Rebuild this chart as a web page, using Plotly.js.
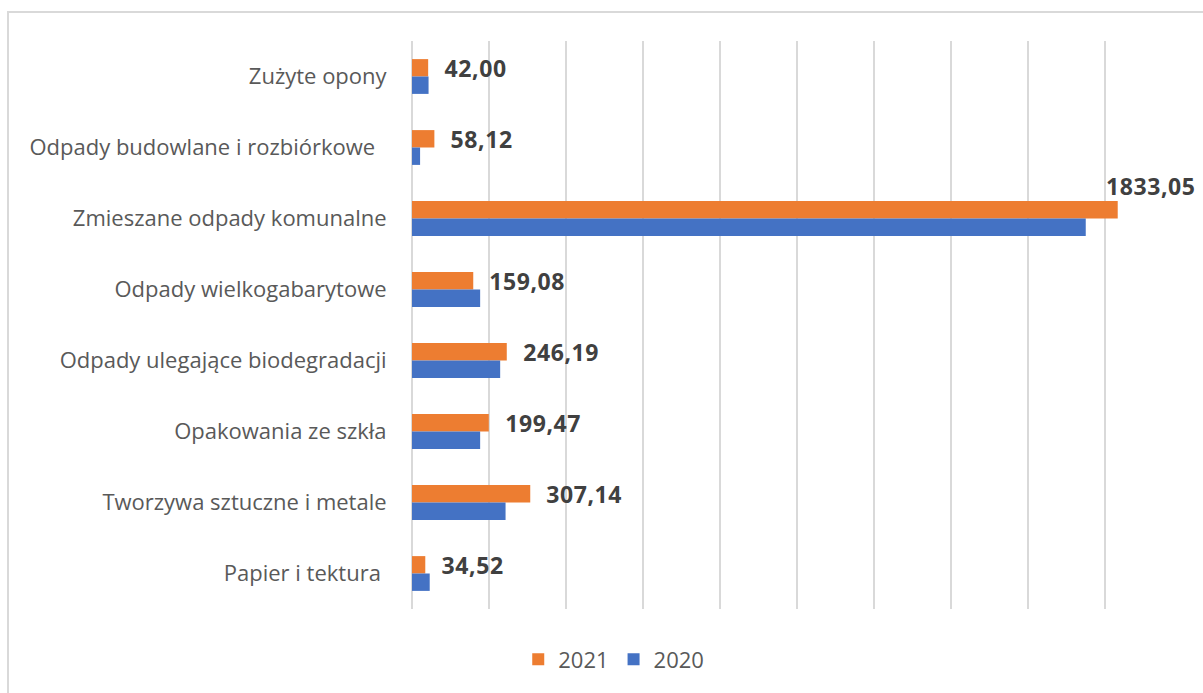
<!DOCTYPE html>
<html>
<head>
<meta charset="utf-8">
<script src="https://cdn.plot.ly/plotly-3.0.1.min.js"></script>
<style>
  html, body { margin: 0; padding: 0; background: #ffffff; }
  #frame { position: absolute; left: 7px; top: 11px; width: 1400px; height: 900px;
           border: 2.5px solid #d9d9d9; box-sizing: border-box; }
  #chart { position: absolute; left: 0; top: 0; width: 1203px; height: 693px; }
  #chart .annotation-text { letter-spacing: 0.6px; }
</style>
</head>
<body>
<div id="frame"></div>
<div id="chart"></div>
<script>
// Categories listed top to bottom as in the reference
const categories = [
  "Zużyte opony",
  "Odpady budowlane i rozbiórkowe\u00a0\u00a0",
  "Zmieszane odpady komunalne",
  "Odpady wielkogabarytowe",
  "Odpady ulegające biodegradacji",
  "Opakowania ze szkła",
  "Tworzywa sztuczne i metale",
  "Papier i tektura\u00a0"
];
const values2021 = [42.00, 58.12, 1833.05, 159.08, 246.19, 199.47, 307.14, 34.52];
const values2020 = [43, 21, 1750, 177, 229, 177, 243, 46];
const labels2021 = ["42,00", "58,12", "1833,05", "159,08", "246,19", "199,47", "307,14", "34,52"];
const seriesNames = ["2021", "2020"];

const xMax = 2000;

const traces = [
  {
    type: "bar", orientation: "h", name: seriesNames[0],
    y: categories, x: values2021,
    marker: { color: "#ED7D31" },
    hoverinfo: "x+name"
  },
  {
    type: "bar", orientation: "h", name: seriesNames[1],
    y: categories, x: values2020,
    marker: { color: "#4472C4" },
    hoverinfo: "x+name"
  }
];

const annotations = values2021.map((v, i) => {
  const above = v > 0.8 * xMax;
  return {
    x: v, y: categories[i], xref: "x", yref: "y",
    text: labels2021[i], showarrow: false,
    xanchor: "left", yanchor: "middle",
    xshift: above ? -12 : 16,
    yshift: above ? 33 : 9,
    font: { family: "Open Sans", size: 23, color: "#404040", weight: "bold" }
  };
});

const layout = {
  width: 1203, height: 693,
  margin: { l: 412, r: 21, t: 41, b: 82 },
  paper_bgcolor: "rgba(0,0,0,0)",
  plot_bgcolor: "rgba(0,0,0,0)",
  barmode: "group",
  bargap: 0.51,
  bargroupgap: 0,
  showlegend: true,
  legend: {
    orientation: "h", x: 0.262, xanchor: "center", y: -0.052, yanchor: "top",
    font: { family: "Open Sans", size: 22, color: "#595959" },
    traceorder: "normal"
  },
  xaxis: {
    range: [0, xMax], dtick: 200, tick0: 0,
    showticklabels: false, ticks: "",
    showgrid: true, gridcolor: "#d9d9d9", gridwidth: 2,
    zeroline: true, zerolinecolor: "#d9d9d9", zerolinewidth: 2,
    showline: false, fixedrange: true
  },
  yaxis: {
    type: "category", autorange: "reversed",
    ticks: "outside", ticklen: 20, tickcolor: "rgba(0,0,0,0)",
    tickfont: { family: "Open Sans", size: 22, color: "#595959" },
    showgrid: false, zeroline: false, showline: false, fixedrange: true
  },
  annotations: annotations
};

Plotly.newPlot("chart", traces, layout, { displayModeBar: false, staticPlot: true });
</script>
</body>
</html>
